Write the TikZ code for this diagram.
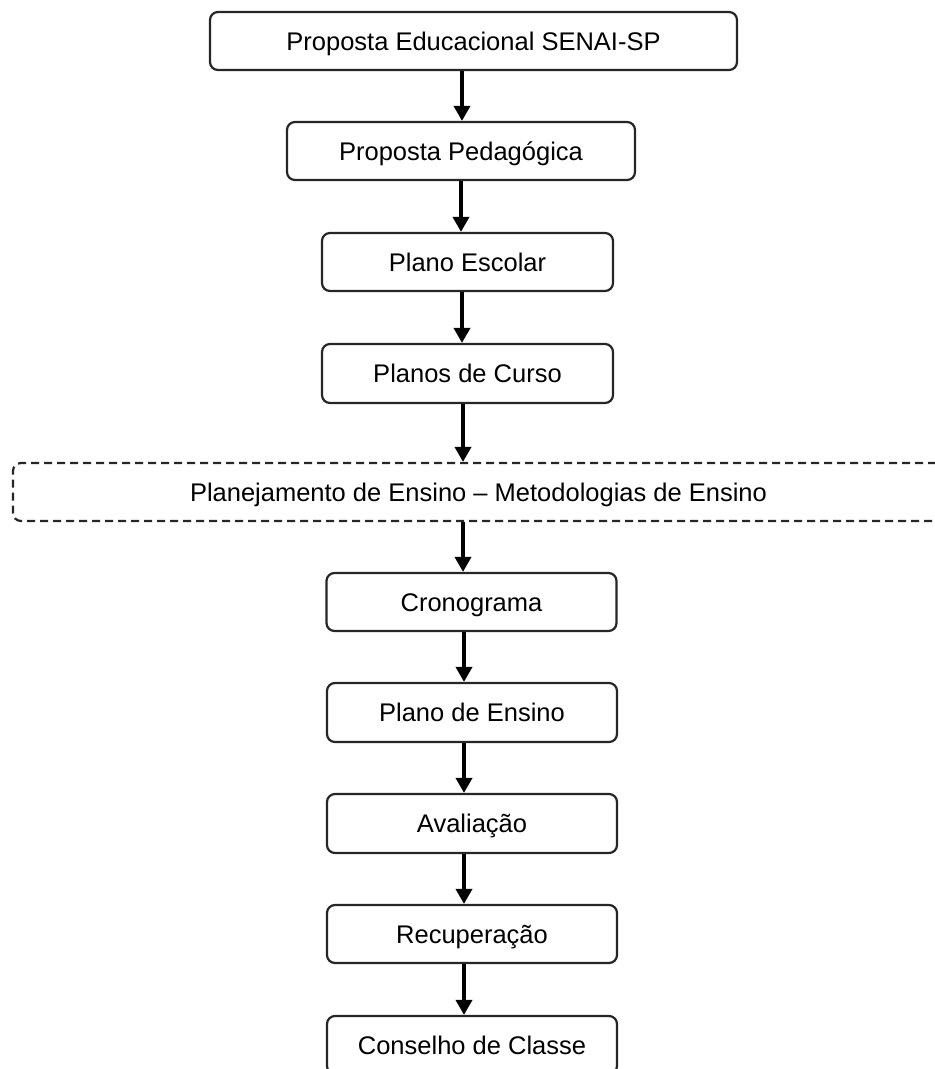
\documentclass[tikz,border=0pt]{standalone}
\usepackage{fontspec}
\setmainfont{Liberation Sans}
\usetikzlibrary{arrows.meta}
\tikzset{
  boxnode/.style={draw=black!85, line width=2.2pt, rounded corners=8pt, fill=white, align=center, inner sep=0pt, text height=18.5pt, text depth=0pt, font=\fontsize{25.5}{30}\selectfont},
  dashbox/.style={boxnode, dash pattern=on 8pt off 5pt},
  flow/.style={line width=3.6pt, -{Triangle[width=16pt,length=15pt]}}
}
\begin{document}
\begin{tikzpicture}[x=1pt,y=-1pt]
\useasboundingbox (0,0) rectangle (935,1069);
\clip (0,0) rectangle (935,1069);
\node[boxnode, minimum width=527pt, minimum height=58pt] (b1) at (473.5,41) {Proposta Educacional SENAI-SP};
\node[boxnode, minimum width=348pt, minimum height=58pt] (b2) at (461,151) {Proposta Pedagógica};
\node[boxnode, minimum width=291pt, minimum height=58pt] (b3) at (467.5,262) {Plano Escolar};
\node[boxnode, minimum width=291pt, minimum height=59pt] (b4) at (467.5,373.5) {Planos de Curso};
\node[dashbox, minimum width=931pt, minimum height=58pt] (b5) at (478.5,492) {Planejamento de Ensino – Metodologias de Ensino};
\node[boxnode, minimum width=290pt, minimum height=58pt] (b6) at (471.5,602) {Cronograma};
\node[boxnode, minimum width=290pt, minimum height=59pt] (b7) at (472,712.5) {Plano de Ensino};
\node[boxnode, minimum width=290pt, minimum height=59pt] (b8) at (472,823.5) {Avaliação};
\node[boxnode, minimum width=290pt, minimum height=58pt] (b9) at (472,934) {Recuperação};
\node[boxnode, minimum width=290pt, minimum height=58pt] (b10) at (472,1045) {Conselho de Classe};
\coordinate (a1) at (462,0);
\coordinate (a2) at (461,0);
\coordinate (a3) at (462,0);
\coordinate (a4) at (463,0);
\coordinate (a5) at (463,0);
\coordinate (a6) at (464,0);
\draw[flow] (b1.south -| a1) -- (b2.north -| a1);
\draw[flow] (b2.south -| a2) -- (b3.north -| a2);
\draw[flow] (b3.south -| a3) -- (b4.north -| a3);
\draw[flow] (b4.south -| a4) -- (b5.north -| a4);
\draw[flow] (b5.south -| a5) -- (b6.north -| a5);
\draw[flow] (b6.south -| a6) -- (b7.north -| a6);
\draw[flow] (b7.south -| a6) -- (b8.north -| a6);
\draw[flow] (b8.south -| a6) -- (b9.north -| a6);
\draw[flow] (b9.south -| a6) -- (b10.north -| a6);
\end{tikzpicture}
\end{document}
